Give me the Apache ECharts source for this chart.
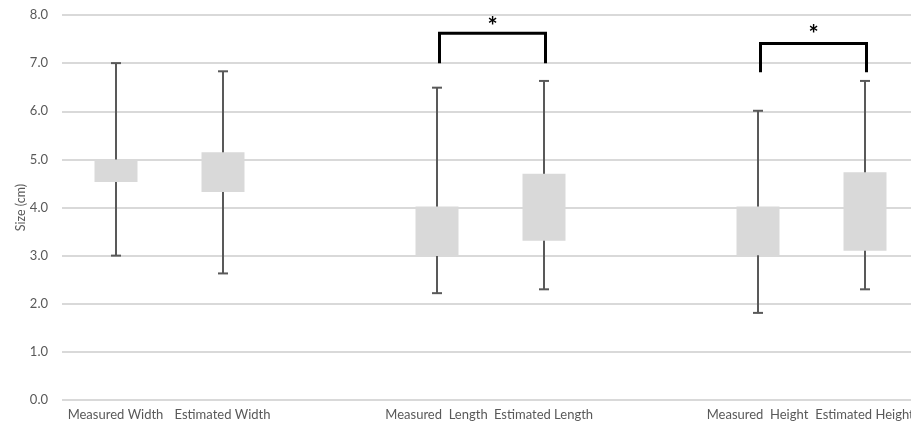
<!DOCTYPE html>
<html><head><meta charset="utf-8">
<script src="https://cdn.jsdelivr.net/npm/echarts@6/dist/echarts.min.js"></script>
<style>html,body{margin:0;padding:0;background:#fff}#c{width:911px;height:426px}</style>
</head><body><div id="c"></div>
<script>
const categories = ['Measured Width','Estimated Width',' ','Measured  Length','Estimated Length','  ','Measured  Height','Estimated Height'];
const boxIndex = [0, 1, 3, 4, 6, 7];
const whiskerMin = [3.0, 2.63, 2.22, 2.30, 1.81, 2.30];
const boxLow = [4.53, 4.32, 2.99, 3.31, 3.01, 3.10];
const boxHigh = [5.0, 5.15, 4.02, 4.70, 4.02, 4.73];
const whiskerMax = [7.0, 6.83, 6.49, 6.63, 6.01, 6.63];
const yTicks = [0, 1, 2, 3, 4, 5, 6, 7, 8];
// significance brackets: [from category, to category, bracket top, leg bottom, star]
const sigFrom = [3, 6];
const sigTo = [4, 7];
const sigTop = [7.62, 7.41];
const sigBottom = [7.0, 6.81];
const sigStar = [7.87, 7.71];

const boxData = boxIndex.map((c, i) => [c, whiskerMin[i], boxLow[i], boxHigh[i], whiskerMax[i]]);
const sigData = sigFrom.map((f, i) => [f, sigTo[i], sigTop[i], sigBottom[i], sigStar[i]]);

const chart = echarts.init(document.getElementById('c'));
const FONT = 'Lato';
chart.setOption({
  animation: false,
  grid: { left: 62, top: 15, width: 856, height: 385, containLabel: false, outerBoundsMode: 'none' },
  xAxis: {
    type: 'category', data: categories,
    axisLine: { show: false }, axisTick: { show: false },
    axisLabel: { interval: 0, color: '#595959', fontFamily: FONT, fontSize: 13, margin: 8 },
    splitLine: { show: false }
  },
  yAxis: {
    type: 'value', min: yTicks[0], max: yTicks[yTicks.length - 1], interval: 1,
    name: 'Size (cm)', nameLocation: 'middle', nameGap: 35, nameRotate: 90, nameMoveOverlap: false,
    nameTextStyle: { color: '#595959', fontFamily: FONT, fontSize: 12.5 },
    axisLine: { show: false }, axisTick: { show: false },
    axisLabel: { color: '#595959', fontFamily: FONT, fontSize: 13, margin: 14, formatter: v => v.toFixed(1) },
    splitLine: { lineStyle: { color: '#d9d9d9', width: 2 } }
  },
  series: [
    {
      type: 'custom',
      data: boxData,
      encode: { x: 0, y: [1, 2, 3, 4] },
      renderItem: function (params, api) {
        const c = api.value(0);
        const pMin = api.coord([c, api.value(1)]);
        const pLow = api.coord([c, api.value(2)]);
        const pHigh = api.coord([c, api.value(3)]);
        const pMax = api.coord([c, api.value(4)]);
        const x = Math.round(pMin[0]);
        const bw = 43, cap = 5;
        const ls = { stroke: '#595959', lineWidth: 2 };
        return {
          type: 'group',
          children: [
            { type: 'line', shape: { x1: x, y1: pMax[1], x2: x, y2: pMin[1] }, style: ls },
            { type: 'line', shape: { x1: x - cap, y1: pMax[1], x2: x + cap, y2: pMax[1] }, style: ls },
            { type: 'line', shape: { x1: x - cap, y1: pMin[1], x2: x + cap, y2: pMin[1] }, style: ls },
            { type: 'rect', shape: { x: x - bw / 2, y: pHigh[1], width: bw, height: pLow[1] - pHigh[1] }, style: { fill: '#d9d9d9' } }
          ]
        };
      }
    },
    {
      type: 'custom',
      data: sigData,
      encode: { x: [0, 1], y: [2, 3, 4] },
      renderItem: function (params, api) {
        const a = api.coord([api.value(0), api.value(2)]);
        const b = api.coord([api.value(1), api.value(2)]);
        const bot = api.coord([api.value(0), api.value(3)]);
        const st = api.coord([api.value(0), api.value(4)]);
        const x1 = a[0] + 3, x2 = b[0] + 2;
        return {
          type: 'group',
          children: [
            { type: 'polyline', shape: { points: [[x1, bot[1]], [x1, a[1]], [x2, a[1]], [x2, bot[1]]] },
              style: { stroke: '#000', lineWidth: 3, fill: null, lineJoin: 'miter' } },
            { type: 'text', x: (x1 + x2) / 2, y: st[1] + 6,
              style: { text: '*', fill: '#000', font: 'bold 24px ' + FONT, align: 'center', verticalAlign: 'middle' } }
          ]
        };
      }
    }
  ]
});
</script></body></html>
